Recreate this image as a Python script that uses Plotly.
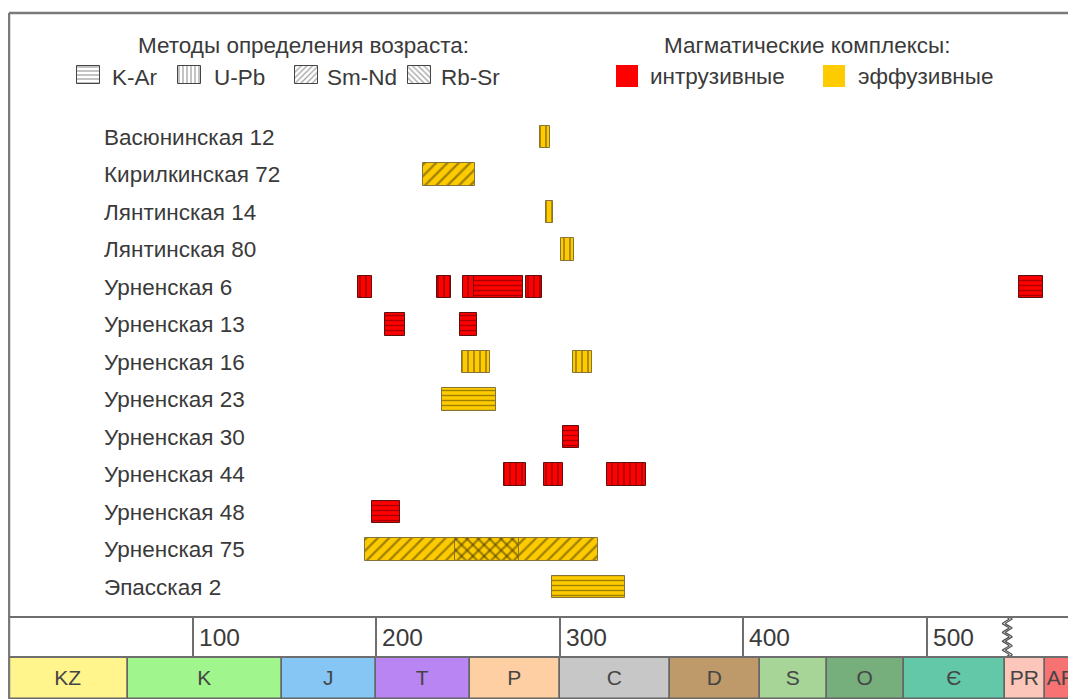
import numpy as np
import plotly.graph_objects as go

# ---------------- data ----------------
rows = ["Васюнинская 12", "Кирилкинская 72", "Лянтинская 14", "Лянтинская 80",
        "Урненская 6", "Урненская 13", "Урненская 16", "Урненская 23",
        "Урненская 30", "Урненская 44", "Урненская 48", "Урненская 75",
        "Эпасская 2"]

# age determinations (Ma)
det_row = ["Васюнинская 12", "Кирилкинская 72", "Лянтинская 14", "Лянтинская 80",
           "Урненская 6", "Урненская 6", "Урненская 6", "Урненская 6", "Урненская 6", "Урненская 6",
           "Урненская 13", "Урненская 13",
           "Урненская 16", "Урненская 16",
           "Урненская 23",
           "Урненская 30",
           "Урненская 44", "Урненская 44", "Урненская 44",
           "Урненская 48",
           "Урненская 75", "Урненская 75",
           "Эпасская 2"]
det_start = [289.5, 225.5, 292.5, 301.0,
             190.0, 233.0, 247.5, 253.5, 281.5, 550.5,
             205.0, 246.0,
             247.0, 307.5,
             236.0,
             302.0,
             270.0, 291.5, 326.0,
             198.0,
             194.0, 243.0,
             296.0]
det_end = [295.0, 254.0, 296.5, 308.0,
           198.0, 241.0, 253.5, 280.0, 290.5, 563.5,
           216.0, 255.0,
           262.0, 317.5,
           265.5,
           310.5,
           281.5, 302.0, 347.0,
           213.0,
           321.0, 278.0,
           335.5]
det_method = ["U-Pb", "Sm-Nd", "U-Pb", "U-Pb",
              "U-Pb", "U-Pb", "U-Pb", "K-Ar", "U-Pb", "K-Ar",
              "K-Ar", "K-Ar",
              "U-Pb", "U-Pb",
              "K-Ar",
              "K-Ar",
              "U-Pb", "U-Pb", "U-Pb",
              "K-Ar",
              "Sm-Nd", "Rb-Sr",
              "K-Ar"]
det_complex = ["eff", "eff", "eff", "eff",
               "intr", "intr", "intr", "intr", "intr", "intr",
               "intr", "intr",
               "eff", "eff",
               "eff",
               "intr",
               "intr", "intr", "intr",
               "intr",
               "eff", "eff",
               "eff"]

methods = ["K-Ar", "U-Pb", "Sm-Nd", "Rb-Sr"]
complex_keys = ["intr", "eff"]
complex_names = ["интрузивные", "эффузивные"]

periods = ["KZ", "K", "J", "T", "P", "C", "D", "S", "O", "Є", "PR", "AR"]
period_start = [0, 65, 148.5, 200, 251, 300, 360, 409, 446, 488, 543, 564.5]
period_end = [65, 148.5, 200, 251, 300, 360, 409, 446, 488, 543, 564.5, 583]
period_colors = ["#FFF58C", "#A0F58C", "#86C6F5", "#B985F2", "#FDCFA2", "#C7C7C7",
                 "#BE9A6B", "#A6D597", "#76AE7C", "#63C8A8", "#FCC6BA", "#F77272"]

tick_values = [100, 200, 300, 400, 500]
break_age = 544

# ---------------- styles ----------------
FONT = "Liberation Sans, Arial, sans-serif"
TXT = "#3a3a3a"
fill_col = {"intr": "#FF0000", "eff": "#FDCB00"}
line_col = {"intr": "#520000", "eff": "#433500"}
edge_col = {"intr": "#601010", "eff": "#86733A"}
pat_shape = {"K-Ar": "-", "U-Pb": "|", "Sm-Nd": "/", "Rb-Sr": "\\"}
pat_size = {"K-Ar": 5, "U-Pb": 6, "Sm-Nd": 8, "Rb-Sr": 8}

# page body has an 8px margin -> figure is offset by 8px
OFF = 8
PAGE_W, PAGE_H = 1076, 699
W, H = PAGE_W - OFF, PAGE_H - OFF
PL, PT = 9, 13                # plot left / top in page pixels
L, T = PL - OFF, PT - OFF

def px(x):
    return (x - PL) / (PAGE_W - PL)
def py(y):
    return (PAGE_H - y) / (PAGE_H - PT)

Y_STRIP = 617
Y_SCALE = 657
SCALE = 1.835  # px per Ma

fig = go.Figure()

# ---- main bars ----
for i in range(len(det_row)):
    m = det_method[i]
    c = det_complex[i]
    overlay = (m == "Rb-Sr")
    fig.add_trace(go.Bar(
        orientation="h", y=[det_row[i]], base=[det_start[i]],
        x=[det_end[i] - det_start[i]], width=0.59,
        marker=dict(
            color="rgba(0,0,0,0)" if overlay else fill_col[c],
            line=dict(color=edge_col[c], width=1),
            pattern=dict(shape=pat_shape[m], size=pat_size[m], solidity=0.28,
                         fgcolor=line_col[c],
                         bgcolor="rgba(0,0,0,0)" if overlay else fill_col[c],
                         fillmode="overlay"),
        ),
        xaxis="x", yaxis="y", showlegend=False, hoverinfo="skip"))

# ---- geologic time scale ----
for i in range(len(periods)):
    fig.add_trace(go.Bar(
        orientation="h", y=[0], base=[period_start[i]],
        x=[period_end[i] - period_start[i]], width=1,
        marker=dict(color=period_colors[i], line=dict(color="#666666", width=1.5)),
        text=[periods[i]], textposition="inside", insidetextanchor="middle",
        constraintext="none", textangle=0,
        textfont=dict(family=FONT, size=21, color="#454545"),
        xaxis="x3", yaxis="y3", showlegend=False, hoverinfo="skip"))

# ---- break squiggle in tick strip ----
yy = np.linspace(0, 1, 160)
for off in (-0.8, 0.8):
    fig.add_trace(go.Scatter(
        x=break_age + off + 1.8 * np.sin(yy * 2 * np.pi * 4.5), y=yy, mode="lines",
        line=dict(color="#555555", width=1.3), xaxis="x2", yaxis="y2",
        showlegend=False, hoverinfo="skip"))

# ---- legend swatches (aux pixel axis) ----
sw_x = [77, 178, 295, 408]
sw_label_x = [110, 212, 325, 439]
for j, m in enumerate(methods):
    fig.add_trace(go.Bar(
        orientation="h", y=[74.5], base=[sw_x[j]], x=[23], width=18,
        marker=dict(color="white", line=dict(color="#444444", width=1),
                    pattern=dict(shape=pat_shape[m], size=4, solidity=0.32,
                                 fgcolor="#444444", bgcolor="white", fillmode="overlay")),
        xaxis="x4", yaxis="y4", showlegend=False, hoverinfo="skip"))
cx = [616, 823]
cx_label = [648, 856]
for j, c in enumerate(complex_keys):
    fig.add_trace(go.Bar(
        orientation="h", y=[76], base=[cx[j]], x=[22], width=22,
        marker=dict(color=fill_col[c], line=dict(width=0)),
        xaxis="x4", yaxis="y4", showlegend=False, hoverinfo="skip"))

FS = 22.5
annotations = []
# row labels
for r in rows:
    annotations.append(dict(x=px(102), xref="paper", y=r, yref="y", text=r,
                            xanchor="left", yanchor="middle", showarrow=False,
                            font=dict(family=FONT, size=FS, color=TXT)))
# tick labels
for t in tick_values:
    annotations.append(dict(x=t, xref="x2", y=0.5, yref="y2", text=str(t),
                            xanchor="left", yanchor="middle", xshift=4, showarrow=False,
                            font=dict(family=FONT, size=24.5, color=TXT)))
# legend titles / labels
annotations.append(dict(x=px(303), y=py(46), xref="paper", yref="paper",
                        text="Методы определения возраста:", showarrow=False,
                        xanchor="center", yanchor="middle",
                        font=dict(family=FONT, size=FS, color=TXT)))
annotations.append(dict(x=px(807), y=py(45), xref="paper", yref="paper",
                        text="Магматические комплексы:", showarrow=False,
                        xanchor="center", yanchor="middle",
                        font=dict(family=FONT, size=FS, color=TXT)))
for j, m in enumerate(methods):
    annotations.append(dict(x=px(sw_label_x[j]), y=py(78), xref="paper", yref="paper",
                            text=m, showarrow=False, xanchor="left", yanchor="middle",
                            font=dict(family=FONT, size=FS, color=TXT)))
for j, n in enumerate(complex_names):
    annotations.append(dict(x=px(cx_label[j]), y=py(76.5), xref="paper", yref="paper",
                            text=n, showarrow=False, xanchor="left", yanchor="middle",
                            font=dict(family=FONT, size=FS, color=TXT)))

shapes = [
    dict(type="line", xref="paper", yref="paper", x0=0, x1=1.01, y0=1, y1=1,
         line=dict(color="#7a7a7a", width=2.5)),
    dict(type="line", xref="paper", yref="paper", x0=0, x1=0, y0=0, y1=1,
         line=dict(color="#7a7a7a", width=2.5)),
    dict(type="line", xref="paper", yref="paper", x0=0, x1=1.01, y0=py(Y_STRIP), y1=py(Y_STRIP),
         line=dict(color="#6e6e6e", width=2)),
    dict(type="line", xref="paper", yref="paper", x0=0, x1=1.01, y0=py(Y_SCALE), y1=py(Y_SCALE),
         line=dict(color="#6e6e6e", width=2)),
]

k = 37.5
r0 = -(137 - PT) / k
r1 = r0 + (Y_STRIP - PT) / k

fig.update_layout(
    width=W, height=H, margin=dict(l=L, r=0, t=T, b=0, pad=0),
    paper_bgcolor="white", plot_bgcolor="rgba(0,0,0,0)",
    barmode="overlay", bargap=0,
    annotations=annotations, shapes=shapes,
    xaxis=dict(domain=[0, 1], range=[0, (PAGE_W - PL) / SCALE], showgrid=False, zeroline=False,
               showticklabels=False, ticks="", anchor="y", fixedrange=True),
    yaxis=dict(domain=[py(Y_STRIP), 1], type="category", categoryorder="array",
               categoryarray=rows, range=[r1, r0], showgrid=False, zeroline=False,
               showticklabels=False, ticks="", anchor="x"),
    xaxis2=dict(matches="x", anchor="y2", showgrid=True, gridcolor="#6e6e6e", gridwidth=1.5,
                tickvals=tick_values, showticklabels=False, ticks="", zeroline=False),
    yaxis2=dict(domain=[py(Y_SCALE), py(Y_STRIP)], range=[0, 1], showgrid=False,
                zeroline=False, showticklabels=False, anchor="x2"),
    xaxis3=dict(matches="x", anchor="y3", showgrid=False, showticklabels=False, ticks="",
                zeroline=False),
    yaxis3=dict(domain=[0, py(Y_SCALE)], range=[-0.5, 0.5], showgrid=False, zeroline=False,
                showticklabels=False, anchor="x3"),
    xaxis4=dict(domain=[0, 1], range=[PL, PAGE_W], anchor="y4", visible=False),
    yaxis4=dict(domain=[py(Y_STRIP), 1], range=[Y_STRIP, PT], anchor="x4", visible=False),
)

fig.write_html("out.html")
